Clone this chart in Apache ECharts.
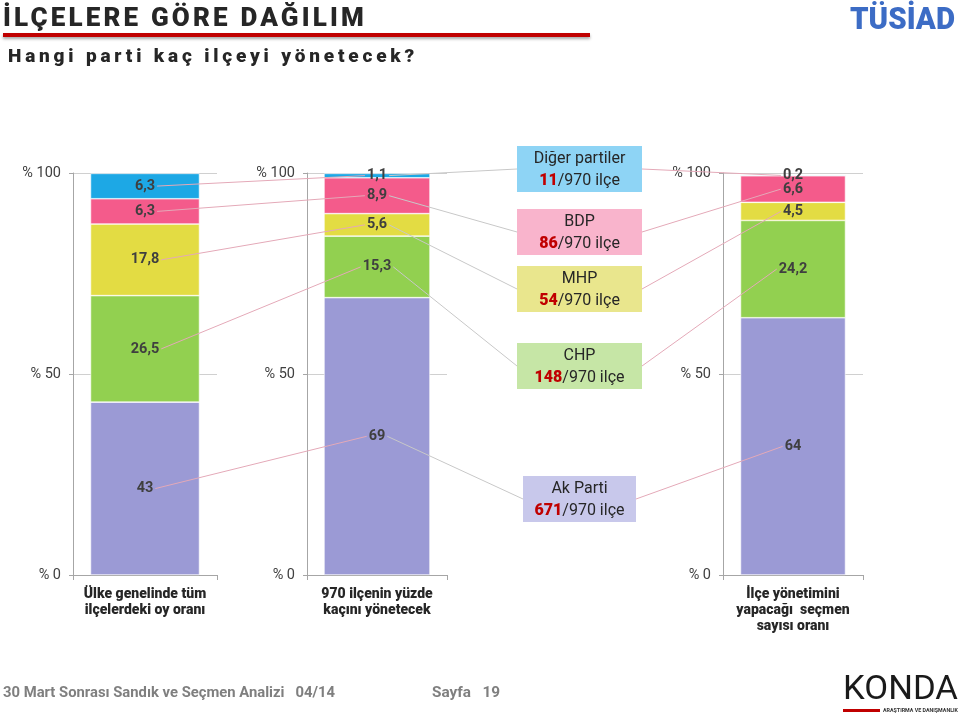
<!DOCTYPE html>
<html>
<head>
<meta charset="utf-8">
<script src="https://cdn.jsdelivr.net/npm/echarts@6/dist/echarts.min.js"></script>
<style>
html,body{margin:0;padding:0;background:#fff;}
#wrap{position:relative;width:960px;height:716px;overflow:hidden;}
#c{position:absolute;left:0;top:0;width:960px;height:716px;}
.t{position:absolute;white-space:nowrap;font-family:Roboto,"Liberation Sans",sans-serif;font-weight:900;color:#262626;line-height:1;}
</style>
</head>
<body>
<div id="wrap">
  <div id="c"></div>
  <div id="title" class="t" style="left:3px;top:4px;font-size:26px;">İLÇELERE GÖRE DAĞILIM</div>
  <div id="sub" class="t" style="left:8px;top:46px;font-size:19px;">Hangi parti kaç ilçeyi yönetecek?</div>
</div>
<script>
// ---------------- data ----------------
const parties = ['Ak Parti', 'CHP', 'MHP', 'BDP', 'Diğer partiler'];
const categories = [
  'Ülke genelinde tüm\nilçelerdeki oy oranı',
  '970 ilçenin yüzde\nkaçını yönetecek',
  'İlçe yönetimini\nyapacağı  seçmen\nsayısı oranı'
];
const voteShare     = [43, 26.5, 17.8, 6.3, 6.3];
const districtShare = [69, 15.3, 5.6, 8.9, 1.1];
const voterShare    = [64, 24.2, 4.5, 6.6, 0.2];
const districtCounts = [671, 148, 54, 86, 11];
const totalDistricts = 970;
const yTicks = [0, 50, 100];

const panels = [voteShare, districtShare, voterShare];

// ---------------- style / layout ----------------
const barColors = ['#9B9AD5', '#92D050', '#E3DC43', '#F45B8B', '#1DA8E5'];
const boxColors = ['#C8C8EB', '#C6E6A6', '#E9E68D', '#F9B4CC', '#8ED4F5'];
const FONT = 'Roboto, "Liberation Sans", sans-serif';
const layout = {
  top: 173, height: 402,
  grids: [
    {left: 73, width: 144, barWidth: 109},
    {left: 307, width: 140, barWidth: 106},
    {left: 723, width: 140, barWidth: 105}
  ],
  boxes: [
    {x: 523, y: 476, w: 113},
    {x: 517, y: 343, w: 125},
    {x: 517, y: 266, w: 125},
    {x: 517, y: 209, w: 125},
    {x: 517, y: 146, w: 125}
  ],
  boxH: 46
};

const fmt = v => String(v).replace('.', ',');

// fit letter spacing of HTML titles
function fitSpacing(id, target) {
  const el = document.getElementById(id);
  el.style.letterSpacing = '0px';
  const w = el.getBoundingClientRect().width;
  const n = el.textContent.length;
  el.style.letterSpacing = ((target - w) / n) + 'px';
}
fitSpacing('title', 364);
fitSpacing('sub', 410);

const mctx = document.createElement('canvas').getContext('2d');
function tw(text, font) { mctx.font = font; return mctx.measureText(text).width; }

const chart = echarts.init(document.getElementById('c'));

const grid = layout.grids.map(g => ({left: g.left, width: g.width, top: layout.top, height: layout.height}));
const xAxis = categories.map((c, i) => ({
  type: 'category', gridIndex: i, data: [c],
  axisLine: {lineStyle: {color: '#A6A6A6'}},
  axisTick: {show: true, length: 5, lineStyle: {color: '#A6A6A6'}},
  axisLabel: {margin: 11, fontFamily: FONT, fontWeight: 900, fontSize: 14, lineHeight: 16, color: '#262626', interval: 0}
}));
const yAxis = categories.map((c, i) => ({
  type: 'value', gridIndex: i, min: yTicks[0], max: yTicks[yTicks.length - 1], interval: yTicks[1] - yTicks[0],
  axisLine: {show: true, lineStyle: {color: '#A6A6A6'}},
  axisTick: {show: true, length: 4, lineStyle: {color: '#A6A6A6'}},
  splitLine: {show: true, lineStyle: {color: '#D0D0D0'}},
  axisLabel: {formatter: v => '% ' + v, fontFamily: FONT, fontSize: 14.5, color: '#404040', margin: 12}
}));

const labelFont = 'bold 14.5px ' + FONT;
const series = [];
panels.forEach((vals, p) => {
  vals.forEach((v, j) => {
    series.push({
      type: 'bar', name: parties[j], xAxisIndex: p, yAxisIndex: p, stack: 'p' + p,
      barWidth: layout.grids[p].barWidth,
      data: [v],
      itemStyle: {color: barColors[j], borderColor: '#ffffff', borderWidth: 0.6},
      label: {show: true, position: 'inside', formatter: q => fmt(q.value),
        fontFamily: FONT, fontWeight: 'bold', fontSize: 14.5, color: '#3F3F3F'},
      emphasis: {disabled: true},
      animation: false
    });
  });
});

chart.setOption({animation: false, grid, xAxis, yAxis, series});

// ---------------- annotations ----------------
function pt(p, j) {
  const vals = panels[p];
  let base = 0;
  for (let k = 0; k < j; k++) base += vals[k];
  const mid = base + vals[j] / 2;
  const xy = chart.convertToPixel({xAxisIndex: p, yAxisIndex: p}, [0, mid]);
  return {x: xy[0], y: xy[1], hw: tw(fmt(vals[j]), labelFont) / 2};
}

const graphic = [];
const pink = '#E4A9B8', gray = '#C8C8C8';
parties.forEach((name, j) => {
  const a = pt(0, j), b = pt(1, j), c = pt(2, j);
  const bx = layout.boxes[j];
  const my = bx.y + layout.boxH / 2;
  graphic.push({type: 'line', z: 100, shape: {x1: a.x + a.hw + 2, y1: a.y, x2: b.x - b.hw - 2, y2: b.y}, style: {stroke: pink, lineWidth: 1}});
  graphic.push({type: 'line', z: 100, shape: {x1: b.x + b.hw + 2, y1: b.y, x2: bx.x, y2: my}, style: {stroke: gray, lineWidth: 1}});
  graphic.push({type: 'line', z: 100, shape: {x1: bx.x + bx.w, y1: my, x2: c.x - c.hw - 2, y2: c.y}, style: {stroke: pink, lineWidth: 1}});
  graphic.push({type: 'rect', z: 101, shape: {x: bx.x, y: bx.y, width: bx.w, height: layout.boxH}, style: {fill: boxColors[j]}});
  graphic.push({type: 'text', z: 102, x: bx.x + bx.w / 2, y: bx.y + 13,
    style: {text: name, font: '16px ' + FONT, fill: '#262626', align: 'center', verticalAlign: 'middle', textAlign: 'center', textVerticalAlign: 'middle'}});
  graphic.push({type: 'text', z: 102, x: bx.x + bx.w / 2, y: bx.y + 35,
    style: {text: '{n|' + districtCounts[j] + '}{t|/' + totalDistricts + ' ilçe}', align: 'center', verticalAlign: 'middle', textAlign: 'center', textVerticalAlign: 'middle',
      rich: {
        n: {font: '900 16px ' + FONT, fill: '#C00000', color: '#C00000', align: 'center'},
        t: {font: '16px ' + FONT, fill: '#262626', color: '#262626', align: 'center'}
      }}});
});

// title underline
graphic.push({type: 'rect', z: 50, shape: {x: 3, y: 33, width: 587, height: 4},
  style: {fill: '#C00000', shadowBlur: 3, shadowOffsetY: 2, shadowColor: 'rgba(0,0,0,0.35)'}});

function fitText(text, font, x, y, target, fill, extra) {
  const w = tw(text, font);
  return Object.assign({type: 'text', z: 60, x: x, y: y, scaleX: target / w,
    style: {text, font, fill, align: 'left', verticalAlign: 'middle', textAlign: 'left', textVerticalAlign: 'middle'}}, extra || {});
}
// TÜSİAD logo
graphic.push(fitText('TÜSİAD', '900 32px ' + FONT, 850, 21, 105, '#3C6CC5'));
// footer
graphic.push(fitText('30 Mart Sonrası Sandık ve Seçmen Analizi   04/14', 'bold 15px ' + FONT, 3, 693, 332, '#7F7F7F'));
graphic.push(fitText('Sayfa   19', 'bold 15px ' + FONT, 432, 693, 68, '#7F7F7F'));
// KONDA logo
graphic.push(fitText('KONDA', '33px ' + FONT, 843, 691, 115, '#1A1A1A'));
graphic.push({type: 'rect', z: 60, shape: {x: 843, y: 709, width: 37, height: 3}, style: {fill: '#C00000'}});
graphic.push(fitText('ARAŞTIRMA VE DANIŞMANLIK', 'bold 6px ' + FONT, 883, 710.5, 75, '#333333'));

chart.setOption({graphic});
</script>
</body>
</html>
